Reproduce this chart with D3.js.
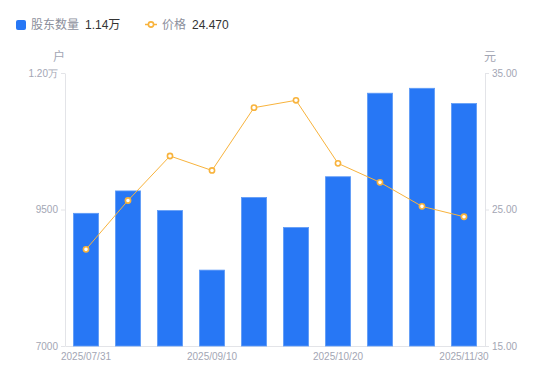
<!DOCTYPE html>
<html>
    <head>
        <meta charset="utf-8">
        <title>股东数量与价格</title>
        <style>
            body { margin: 0; background: #fff; }
            svg { font-family: "Liberation Sans", "Noto Sans CJK SC", sans-serif; }
            .axis path, .axis line { stroke: #e3e4e8; }
            .axis text { fill: #a3a6b4; font-size: 10px; }
        </style>
    </head>
    <body>
        <script src="https://d3js.org/d3.v7.min.js"></script>
        <script>
            // 日付
            var dates = ["2025/07/31", "2025/08/15", "2025/08/31", "2025/09/10", "2025/09/20",
                         "2025/09/30", "2025/10/20", "2025/10/31", "2025/11/15", "2025/11/30"];
            // 股东数量（户）
            var holders = [9430, 9840, 9480, 8390, 9720, 9170, 10100, 11630, 11720, 11440];
            // 价格（元）
            var prices = [22.08, 25.66, 28.92, 27.86, 32.46, 33.0, 28.38, 26.99, 25.23, 24.47];
            var leftTicks = [7000, 9500, 12000];
            var rightTicks = [15, 25, 35];
            var shownDates = ["2025/07/31", "2025/09/10", "2025/10/20", "2025/11/30"];

            var width = 550, height = 381;
            var margin = {left: 65, top: 73, right: 65, bottom: 35};

            var svg = d3.select("body")
                .append("svg")
                .attr("width", width)
                .attr("height", height);

            var xScale = d3.scaleBand()
                .domain(dates)
                .range([margin.left, width - margin.right])
                .paddingInner(0.4)
                .paddingOuter(0.2);

            var yLeft = d3.scaleLinear()
                .domain([7000, 12000])
                .range([height - margin.bottom, margin.top]);

            var yRight = d3.scaleLinear()
                .domain([15, 35])
                .range([height - margin.bottom, margin.top]);

            // 軸
            var xAxis = d3.axisBottom(xScale)
                .tickValues(shownDates)
                .tickSize(0)
                .tickPadding(7);
            svg.append("g")
                .attr("class", "x axis")
                .attr("transform", "translate(0," + (height - margin.bottom) + ")")
                .call(xAxis);

            var leftAxis = d3.axisLeft(yLeft)
                .tickValues(leftTicks)
                .tickSizeInner(4).tickSizeOuter(0)
                .tickPadding(3)
                .tickFormat(function(d) {
                    return d >= 10000 ? (d / 10000).toFixed(2) + "万" : d;
                });
            svg.append("g")
                .attr("class", "y axis")
                .attr("transform", "translate(" + margin.left + ",0)")
                .call(leftAxis);

            var rightAxis = d3.axisRight(yRight)
                .tickValues(rightTicks)
                .tickSizeInner(4).tickSizeOuter(0)
                .tickPadding(3)
                .tickFormat(d3.format(".2f"));
            svg.append("g")
                .attr("class", "y axis")
                .attr("transform", "translate(" + (width - margin.right) + ",0)")
                .call(rightAxis);

            // 単位
            svg.append("text")
                .attr("x", 59).attr("y", 61)
                .attr("text-anchor", "middle")
                .attr("fill", "#a3a6b4")
                .attr("font-size", 12)
                .text("户");
            svg.append("text")
                .attr("x", 490).attr("y", 61)
                .attr("text-anchor", "middle")
                .attr("fill", "#a3a6b4")
                .attr("font-size", 12)
                .text("元");

            // 棒
            svg.append("g")
                .selectAll("rect")
                .data(holders)
                .enter()
                .append("rect")
                .attr("x", function(d, i) { return xScale(dates[i]); })
                .attr("y", function(d) { return yLeft(d); })
                .attr("width", xScale.bandwidth())
                .attr("height", function(d) { return yLeft(7000) - yLeft(d); })
                .attr("fill", "#2777f5")
                .attr("stroke", "#5f9bf7")
                .attr("stroke-width", 0.8);

            // 折れ線
            var line = d3.line()
                .x(function(d, i) { return xScale(dates[i]) + xScale.bandwidth() / 2; })
                .y(function(d) { return yRight(d); });

            svg.append("path")
                .datum(prices)
                .attr("fill", "none")
                .attr("stroke", "#f8b33c")
                .attr("stroke-width", 1)
                .attr("d", line);

            svg.append("g")
                .selectAll("circle")
                .data(prices)
                .enter()
                .append("circle")
                .attr("cx", function(d, i) { return xScale(dates[i]) + xScale.bandwidth() / 2; })
                .attr("cy", function(d) { return yRight(d); })
                .attr("r", 2.6)
                .attr("fill", "#fff")
                .attr("stroke", "#f8b33c")
                .attr("stroke-width", 1.6);

            // 凡例
            var legend = svg.append("g").attr("font-size", 12);
            legend.append("rect")
                .attr("x", 16).attr("y", 20)
                .attr("width", 10).attr("height", 10)
                .attr("rx", 2)
                .attr("fill", "#2777f5");
            legend.append("text")
                .attr("x", 31).attr("y", 29)
                .attr("fill", "#8c8f9c")
                .text("股东数量");
            legend.append("text")
                .attr("x", 85).attr("y", 29)
                .attr("fill", "#333")
                .text("1.14万");

            legend.append("line")
                .attr("x1", 145).attr("x2", 157)
                .attr("y1", 24.5).attr("y2", 24.5)
                .attr("stroke", "#f8b33c")
                .attr("stroke-width", 1.5);
            legend.append("circle")
                .attr("cx", 151).attr("cy", 24.5)
                .attr("r", 2.6)
                .attr("fill", "#fff")
                .attr("stroke", "#f8b33c")
                .attr("stroke-width", 1.6);
            legend.append("text")
                .attr("x", 162).attr("y", 29)
                .attr("fill", "#8c8f9c")
                .text("价格");
            legend.append("text")
                .attr("x", 192).attr("y", 29)
                .attr("fill", "#333")
                .text("24.470");
        </script>
    </body>
</html>
